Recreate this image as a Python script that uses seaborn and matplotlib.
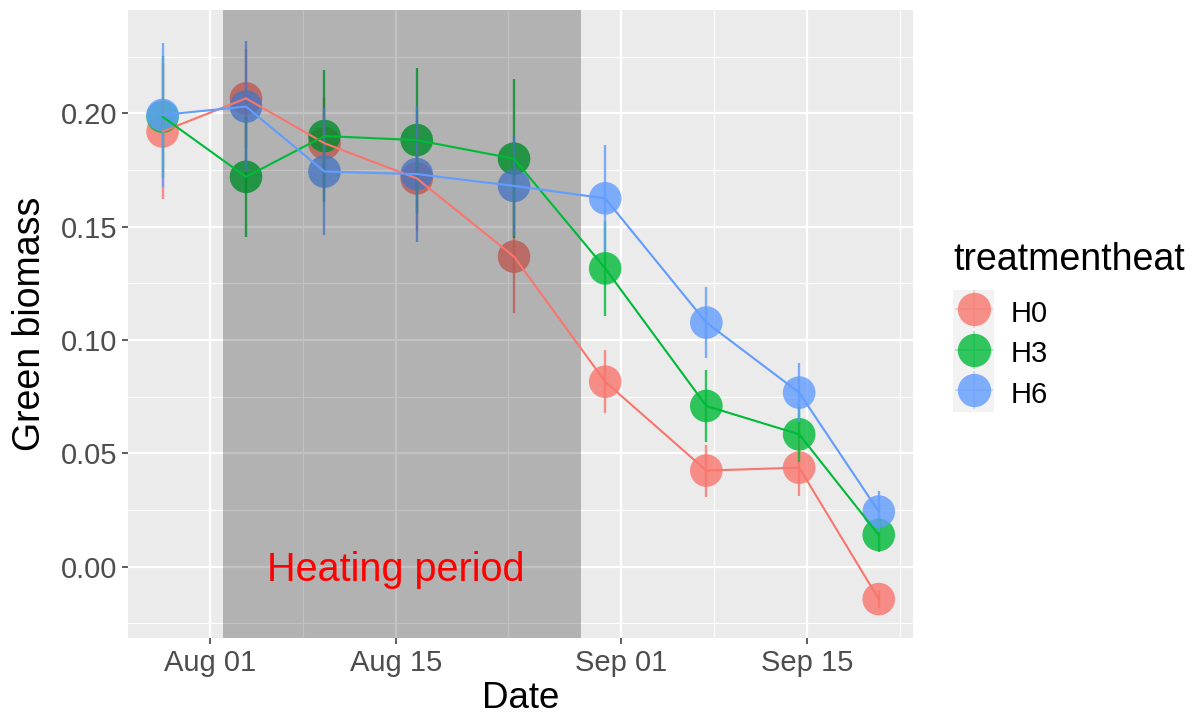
import matplotlib
matplotlib.use("Agg")
import matplotlib.pyplot as plt
import matplotlib.dates as mdates
from matplotlib.lines import Line2D
from matplotlib.legend_handler import HandlerTuple
from matplotlib.patches import Rectangle
import numpy as np
import pandas as pd
import seaborn as sns

# ---- data ----
dates = ["2019-07-28 10:00", "2019-08-03 17:00", "2019-08-09 15:00",
         "2019-08-16 14:00", "2019-08-23 22:00", "2019-08-30 19:00",
         "2019-09-07 10:00", "2019-09-14 10:00", "2019-09-20 10:00"]
treatments = ["H0", "H3", "H6"]
h0_mean = [0.192, 0.2066, 0.1868, 0.1713, 0.1368, 0.0816, 0.0424, 0.0437, -0.0143]
h0_err = [0.030, 0.022, 0.020, 0.023, 0.025, 0.014, 0.0115, 0.0125, 0.004]
h3_mean = [0.1985, 0.172, 0.190, 0.1882, 0.180, 0.1316, 0.0709, 0.0584, 0.014]
h3_err = [0.027, 0.0266, 0.029, 0.032, 0.035, 0.021, 0.016, 0.012, 0.0074]
h6_mean = [0.1993, 0.203, 0.1743, 0.1732, 0.168, 0.1625, 0.1077, 0.0768, 0.0243]
h6_err = [0.0316, 0.029, 0.028, 0.030, 0.022, 0.0235, 0.0155, 0.013, 0.009]
heat_start = "2019-08-02"
heat_end = "2019-08-29"
heat_label = "Heating period"
heat_label_x = "2019-08-15"
heat_label_y = 0.0
x_major = ["2019-08-01", "2019-08-15", "2019-09-01", "2019-09-15"]
x_minor = ["2019-08-08", "2019-08-23 12:00", "2019-09-08", "2019-09-22"]
y_major = [0.00, 0.05, 0.10, 0.15, 0.20]
y_minor = [-0.025, 0.025, 0.075, 0.125, 0.175, 0.225]
x_limits = ["2019-07-25 20:00", "2019-09-23 00:00"]
y_limits = [-0.0316, 0.2456]

palette = {"H0": "#F8766D", "H3": "#00BA38", "H6": "#619CFF"}

means = {"H0": h0_mean, "H3": h3_mean, "H6": h6_mean}
errs = {"H0": h0_err, "H3": h3_err, "H6": h6_err}
rows = []
for t in treatments:
    for d, m, e in zip(dates, means[t], errs[t]):
        rows.append({"date": pd.Timestamp(d), "biomass": m, "err": e, "treatmentheat": t})
df = pd.DataFrame(rows)

sns.set_theme(style="darkgrid")
plt.rcParams["font.family"] = ["Liberation Sans", "DejaVu Sans"]

W, H = 1197, 717
fig = plt.figure(figsize=(W / 100, H / 100), dpi=100)
ax = fig.add_axes([128.3 / W, 1 - 638.3 / H, (913 - 128.3) / W, (638.3 - 10) / H])
ax.set_facecolor("#EBEBEB")
ax.set_axisbelow(True)

# points
sns.scatterplot(data=df, x="date", y="biomass", hue="treatmentheat",
                hue_order=treatments, palette=palette, s=552, alpha=0.8,
                linewidth=0, legend=False, ax=ax, zorder=2)
# error bars
for t in treatments:
    sub = df[df["treatmentheat"] == t]
    ax.vlines(sub["date"], sub["biomass"] - sub["err"], sub["biomass"] + sub["err"],
              color=palette[t], alpha=0.8, linewidth=1.7, zorder=2.5)
# heating shade
ax.axvspan(pd.Timestamp(heat_start), pd.Timestamp(heat_end), color="black",
           alpha=0.24, linewidth=0, zorder=3)
# lines
sns.lineplot(data=df, x="date", y="biomass", hue="treatmentheat",
             hue_order=treatments, palette=palette, estimator=None,
             linewidth=1.5, legend=False, ax=ax, zorder=4)

ax.annotate(heat_label, xy=(pd.Timestamp(heat_label_x), heat_label_y),
            xytext=(0, -10), textcoords="offset points",
            ha="center", va="baseline", color="red", fontsize=28.5, zorder=5)

# axes
ax.set_xticks([pd.Timestamp(d) for d in x_major])
ax.set_xticks([pd.Timestamp(d) for d in x_minor], minor=True)
ax.xaxis.set_major_formatter(mdates.DateFormatter("%b %d"))
ax.set_yticks(y_major)
ax.set_yticklabels([f"{v:.2f}" for v in y_major])
ax.set_yticks(y_minor, minor=True)
ax.set_xlim(pd.Timestamp(x_limits[0]), pd.Timestamp(x_limits[1]))
ax.set_ylim(*y_limits)
ax.grid(which="major", color="white", linewidth=1.6)
ax.grid(which="minor", color="white", linewidth=0.8)
for s in ax.spines.values():
    s.set_visible(False)
ax.tick_params(which="major", length=4.3, width=1.1, color="#333333",
               labelsize=21, labelcolor="#4D4D4D", pad=3.5)
ax.tick_params(which="minor", length=0)
ax.tick_params(axis="x", bottom=True)
ax.tick_params(axis="y", left=True)
ax.set_xlabel("Date", fontsize=26.5, color="black", labelpad=3)
ax.set_ylabel("Green biomass", fontsize=27, color="black", labelpad=9)

# legend
handles = []
for t in treatments:
    dot = Line2D([], [], marker="o", markersize=24, color=palette[t], alpha=0.8,
                 linestyle="", markeredgewidth=0)
    cross = Line2D([], [], marker="+", markersize=28, color=palette[t], alpha=0.35,
                   linestyle="", markeredgewidth=1.2)
    handles.append((dot, cross))
fig.patches.append(Rectangle((953.3 / W, 1 - 412 / H), 40.7 / W, 122 / H,
                             transform=fig.transFigure, facecolor="#F2F2F2",
                             edgecolor="none", zorder=0))
leg = fig.legend(handles, treatments, title="treatmentheat",
                 handler_map={tuple: HandlerTuple(ndivide=1, pad=0)},
                 loc="upper left", bbox_to_anchor=(953.3 / W, 1 - 242 / H),
                 frameon=False, fontsize=21, title_fontsize=27,
                 handlelength=1.4, handleheight=1.3, labelspacing=0.3,
                 handletextpad=0.55, borderaxespad=0, borderpad=0,
                 labelcolor="black")
leg.get_title().set_color("black")
leg._legend_box.align = "left"
leg._legend_box.sep = 13.1

fig.savefig("out.png", dpi=100)
